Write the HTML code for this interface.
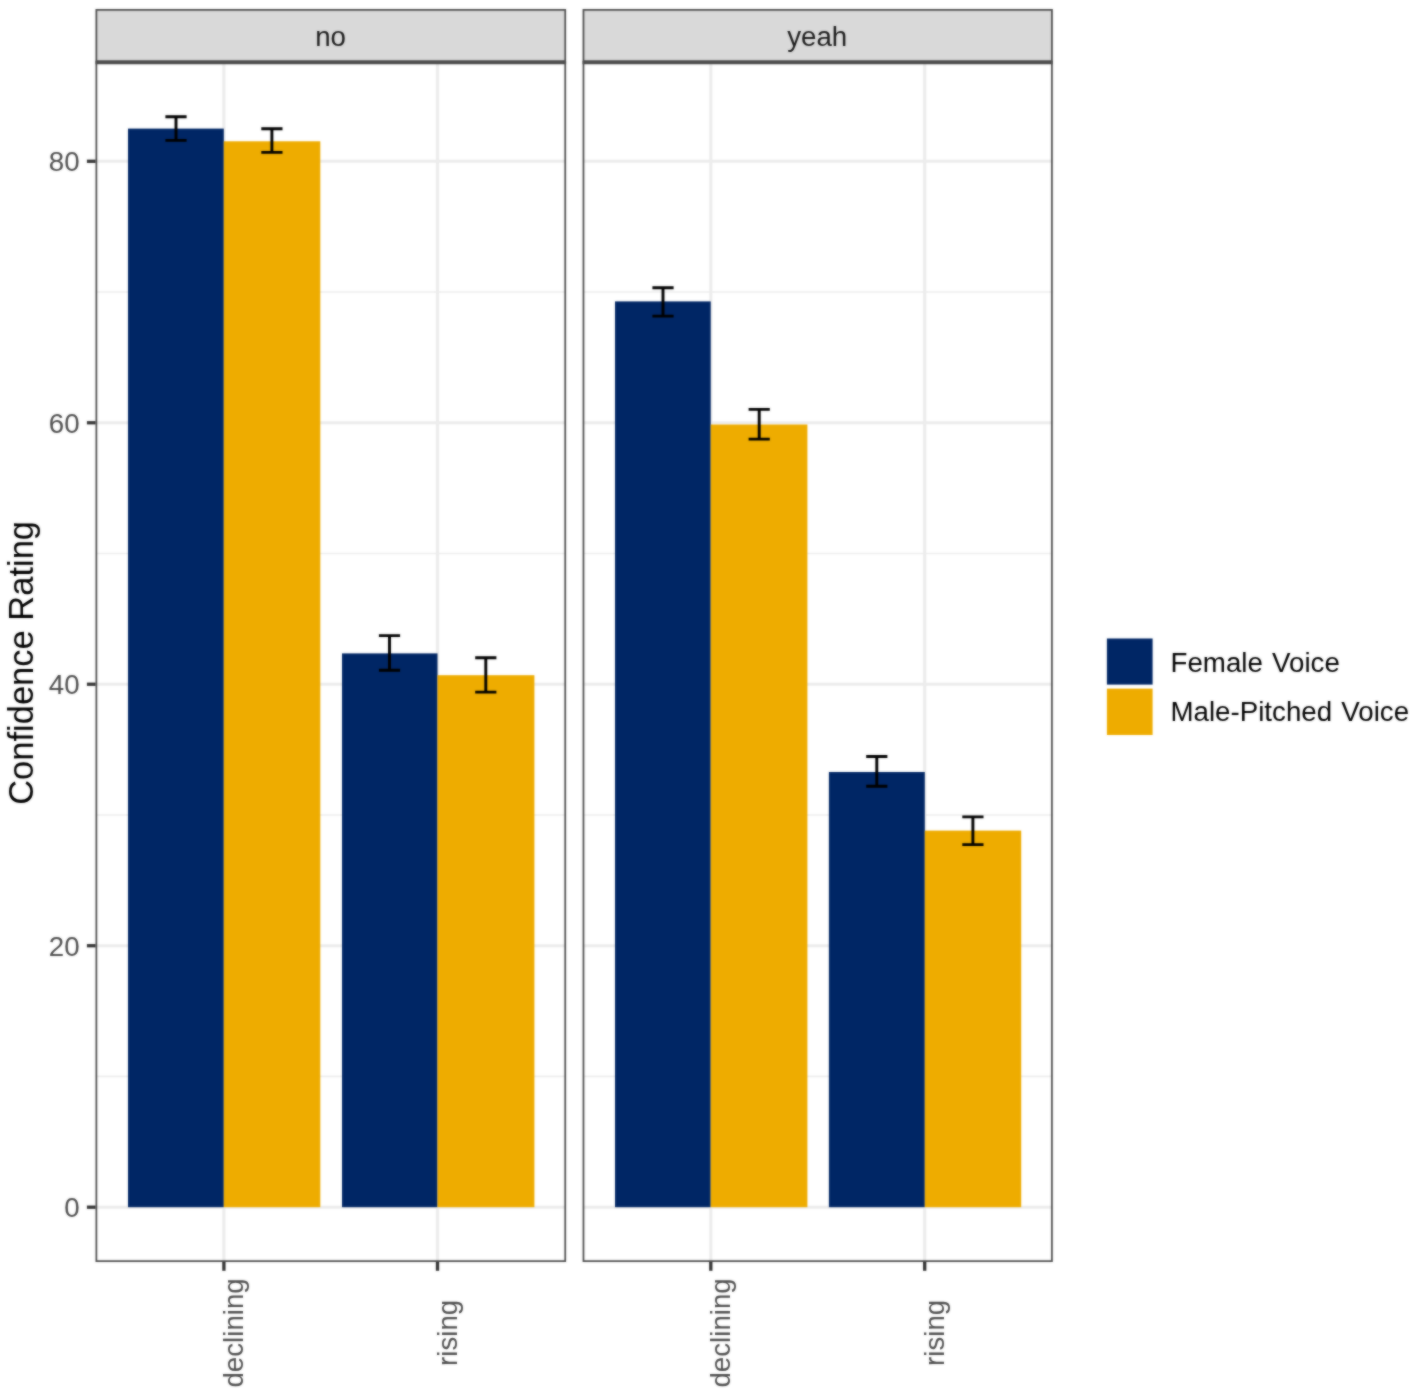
<!DOCTYPE html>
<html lang="en"><head><meta charset="utf-8"><title>Confidence Rating</title>
<style>html,body{margin:0;padding:0;background:#fff}svg{display:block}text{font-family:"Liberation Sans",sans-serif}</style></head><body>
<svg width="1417" height="1395" viewBox="0 0 1417 1395">
<rect width="1417" height="1395" fill="#fff"/>
<defs>
<clipPath id="cp0"><rect x="95.5" y="62.1" width="470.60" height="1199.90"/></clipPath>
<clipPath id="cs0"><rect x="95.5" y="9.0" width="470.60" height="53.10"/></clipPath>
<clipPath id="cp1"><rect x="582.6" y="62.1" width="470.20" height="1199.90"/></clipPath>
<clipPath id="cs1"><rect x="582.6" y="9.0" width="470.20" height="53.10"/></clipPath>
<filter id="soft" filterUnits="userSpaceOnUse" x="0" y="0" width="1417" height="1395" color-interpolation-filters="sRGB"><feGaussianBlur in="SourceGraphic" stdDeviation="1" result="b"/><feComposite in="SourceGraphic" in2="b" operator="arithmetic" k1="0" k2="0.4" k3="0.6" k4="0"/></filter>
</defs>
<g filter="url(#soft)">
<rect width="1417" height="1395" fill="#fff"/>
<g clip-path="url(#cp0)">
<line x1="95.5" x2="566.1" y1="1076.46" y2="1076.46" stroke="#EDEDED" stroke-width="1.7"/>
<line x1="95.5" x2="566.1" y1="814.98" y2="814.98" stroke="#EDEDED" stroke-width="1.7"/>
<line x1="95.5" x2="566.1" y1="553.50" y2="553.50" stroke="#EDEDED" stroke-width="1.7"/>
<line x1="95.5" x2="566.1" y1="292.02" y2="292.02" stroke="#EDEDED" stroke-width="1.7"/>
<line x1="95.5" x2="566.1" y1="1207.20" y2="1207.20" stroke="#ECECEC" stroke-width="3.1"/>
<line x1="95.5" x2="566.1" y1="945.72" y2="945.72" stroke="#ECECEC" stroke-width="3.1"/>
<line x1="95.5" x2="566.1" y1="684.24" y2="684.24" stroke="#ECECEC" stroke-width="3.1"/>
<line x1="95.5" x2="566.1" y1="422.76" y2="422.76" stroke="#ECECEC" stroke-width="3.1"/>
<line x1="95.5" x2="566.1" y1="161.28" y2="161.28" stroke="#ECECEC" stroke-width="3.1"/>
<line x1="223.9" x2="223.9" y1="62.1" y2="1262.0" stroke="#ECECEC" stroke-width="3.1"/>
<line x1="437.5" x2="437.5" y1="62.1" y2="1262.0" stroke="#ECECEC" stroke-width="3.1"/>
<rect x="128.0" y="128.6" width="95.80" height="1078.60" fill="#002665"/>
<rect x="223.8" y="141.3" width="96.50" height="1065.90" fill="#EEAC00"/>
<rect x="342.0" y="653.4" width="95.50" height="553.80" fill="#002665"/>
<rect x="437.5" y="675.2" width="96.90" height="532.00" fill="#EEAC00"/>
</g>
<g clip-path="url(#cp1)">
<line x1="582.6" x2="1052.8" y1="1076.46" y2="1076.46" stroke="#EDEDED" stroke-width="1.7"/>
<line x1="582.6" x2="1052.8" y1="814.98" y2="814.98" stroke="#EDEDED" stroke-width="1.7"/>
<line x1="582.6" x2="1052.8" y1="553.50" y2="553.50" stroke="#EDEDED" stroke-width="1.7"/>
<line x1="582.6" x2="1052.8" y1="292.02" y2="292.02" stroke="#EDEDED" stroke-width="1.7"/>
<line x1="582.6" x2="1052.8" y1="1207.20" y2="1207.20" stroke="#ECECEC" stroke-width="3.1"/>
<line x1="582.6" x2="1052.8" y1="945.72" y2="945.72" stroke="#ECECEC" stroke-width="3.1"/>
<line x1="582.6" x2="1052.8" y1="684.24" y2="684.24" stroke="#ECECEC" stroke-width="3.1"/>
<line x1="582.6" x2="1052.8" y1="422.76" y2="422.76" stroke="#ECECEC" stroke-width="3.1"/>
<line x1="582.6" x2="1052.8" y1="161.28" y2="161.28" stroke="#ECECEC" stroke-width="3.1"/>
<line x1="710.8" x2="710.8" y1="62.1" y2="1262.0" stroke="#ECECEC" stroke-width="3.1"/>
<line x1="924.7" x2="924.7" y1="62.1" y2="1262.0" stroke="#ECECEC" stroke-width="3.1"/>
<rect x="615.0" y="301.4" width="95.70" height="905.80" fill="#002665"/>
<rect x="710.7" y="424.5" width="96.70" height="782.70" fill="#EEAC00"/>
<rect x="828.9" y="772.0" width="95.90" height="435.20" fill="#002665"/>
<rect x="924.8" y="830.6" width="96.40" height="376.60" fill="#EEAC00"/>
</g>
<g stroke="#000" stroke-width="2.9" fill="none">
<path d="M165.4 116.7H186.6M176.0 116.7V140.4M165.4 140.4H186.6"/>
<path d="M261.3 128.7H282.5M271.9 128.7V152.4M261.3 152.4H282.5"/>
<path d="M378.9 635.6H400.1M389.5 635.6V670.3M378.9 670.3H400.1"/>
<path d="M475.2 657.8H496.4M485.8 657.8V692.1M475.2 692.1H496.4"/>
<path d="M652.4 287.7H673.6M663.0 287.7V316.1M652.4 316.1H673.6"/>
<path d="M748.6 409.4H769.8M759.2 409.4V439.1M748.6 439.1H769.8"/>
<path d="M866.2 756.5H887.4M876.8 756.5V786.2M866.2 786.2H887.4"/>
<path d="M962.3 816.9H983.5M972.9 816.9V844.6M962.3 844.6H983.5"/>
</g>
<g clip-path="url(#cs0)"><rect x="95.5" y="9.0" width="470.60" height="53.10" fill="#D9D9D9" stroke="#4c4c4c" stroke-width="3.5"/></g>
<g clip-path="url(#cp0)"><rect x="95.5" y="62.1" width="470.60" height="1199.90" fill="none" stroke="#4c4c4c" stroke-width="3.5"/></g>
<g clip-path="url(#cs1)"><rect x="582.6" y="9.0" width="470.20" height="53.10" fill="#D9D9D9" stroke="#4c4c4c" stroke-width="3.5"/></g>
<g clip-path="url(#cp1)"><rect x="582.6" y="62.1" width="470.20" height="1199.90" fill="none" stroke="#4c4c4c" stroke-width="3.5"/></g>
<line x1="95.5" x2="566.1" y1="62.4" y2="62.4" stroke="#4b4b4b" stroke-width="3.5"/>
<line x1="582.6" x2="1052.8" y1="62.4" y2="62.4" stroke="#4b4b4b" stroke-width="3.5"/>
<g font-size="27.7" fill="#1A1A1A" text-anchor="middle">
<text x="330.6" y="45.9">no</text>
<text x="817.2" y="45.9">yeah</text>
</g>
<g stroke="#333" stroke-width="3.3">
<line x1="86.9" x2="95.6" y1="1207.20" y2="1207.20"/>
<line x1="86.9" x2="95.6" y1="945.72" y2="945.72"/>
<line x1="86.9" x2="95.6" y1="684.24" y2="684.24"/>
<line x1="86.9" x2="95.6" y1="422.76" y2="422.76"/>
<line x1="86.9" x2="95.6" y1="161.28" y2="161.28"/>
<line x1="223.9" x2="223.9" y1="1261.8" y2="1270.8"/>
<line x1="437.5" x2="437.5" y1="1261.8" y2="1270.8"/>
<line x1="710.8" x2="710.8" y1="1261.8" y2="1270.8"/>
<line x1="924.7" x2="924.7" y1="1261.8" y2="1270.8"/>
</g>
<g font-size="27.7" fill="#4D4D4D" text-anchor="end">
<text x="79.6" y="1217.20">0</text>
<text x="79.6" y="955.72">20</text>
<text x="79.6" y="694.24">40</text>
<text x="79.6" y="432.76">60</text>
<text x="79.6" y="171.28">80</text>
</g>
<g font-size="27.7" fill="#4D4D4D" text-anchor="middle">
<text transform="translate(243.3 1332.9) rotate(-90)">declining</text>
<text transform="translate(456.9 1332.9) rotate(-90)">rising</text>
<text transform="translate(730.2 1332.9) rotate(-90)">declining</text>
<text transform="translate(944.1 1332.9) rotate(-90)">rising</text>
</g>
<text font-size="34.5" fill="#000" text-anchor="middle" transform="translate(33.1 662.9) rotate(-90)">Confidence Rating</text>
<rect x="1106.9" y="638.5" width="45.7" height="46.1" fill="#002665"/>
<rect x="1106.9" y="688.6" width="45.7" height="46.4" fill="#EEAC00"/>
<g font-size="27.7" fill="#000" word-spacing="1.6">
<text x="1170.5" y="672.1">Female Voice</text>
<text x="1170.5" y="721.4">Male-Pitched Voice</text>
</g>
</g>
</svg></body></html>
